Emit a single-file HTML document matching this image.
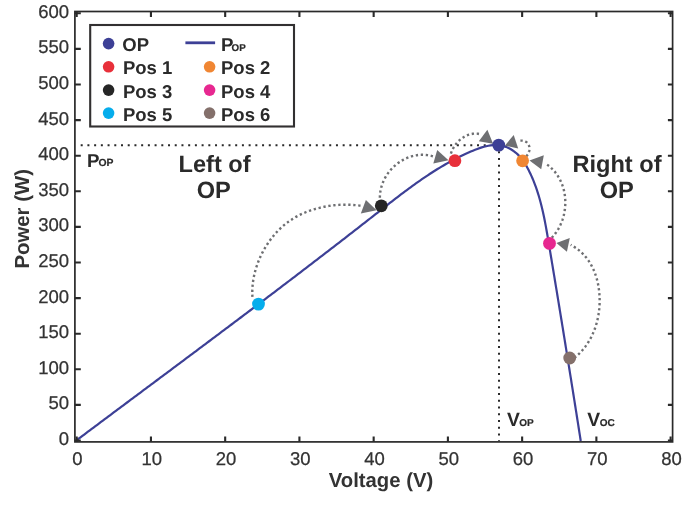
<!DOCTYPE html>
<html lang="en">
<head>
<meta charset="utf-8">
<title>Power vs Voltage</title>
<style>
html,body{margin:0;padding:0;background:#fff;}
body{width:685px;height:511px;overflow:hidden;}
svg{display:block;}
</style>
</head>
<body>
<svg width="685" height="511" viewBox="0 0 685 511" text-rendering="geometricPrecision" font-family="'Liberation Sans', sans-serif">
<rect x="0" y="0" width="685" height="511" fill="#ffffff"/>
<g stroke="#2a2a2a" stroke-width="2.0" fill="none" stroke-dasharray="2.0 4.717">
<path d="M80.7,145.3 H488"/>
<path d="M499,151.3 V441"/>
</g>
<path d="M76.79,440.09 L78.65,438.69 L80.51,437.30 L82.37,435.91 L84.23,434.51 L86.09,433.12 L87.95,431.73 L89.82,430.34 L91.68,428.94 L93.54,427.55 L95.40,426.16 L97.26,424.77 L99.13,423.37 L100.99,421.98 L102.85,420.59 L104.72,419.20 L106.58,417.81 L108.44,416.42 L110.31,415.02 L112.17,413.63 L114.03,412.24 L115.90,410.85 L117.76,409.46 L119.63,408.07 L121.49,406.68 L123.35,405.29 L125.22,403.89 L127.08,402.50 L128.95,401.11 L130.81,399.72 L132.68,398.33 L134.54,396.94 L136.41,395.55 L138.27,394.16 L140.13,392.77 L142.00,391.38 L143.86,389.99 L145.73,388.59 L147.59,387.20 L149.46,385.81 L151.32,384.42 L153.19,383.03 L155.05,381.64 L156.92,380.25 L158.78,378.86 L160.65,377.47 L162.51,376.07 L164.38,374.68 L166.24,373.29 L168.11,371.90 L169.97,370.51 L171.84,369.12 L173.70,367.72 L175.57,366.33 L177.43,364.94 L179.29,363.55 L181.16,362.16 L183.02,360.76 L184.89,359.37 L186.75,357.98 L188.62,356.58 L190.48,355.19 L192.34,353.80 L194.21,352.40 L196.07,351.01 L197.93,349.62 L199.80,348.22 L201.66,346.83 L203.52,345.44 L205.39,344.04 L207.25,342.65 L209.11,341.25 L210.98,339.86 L212.84,338.46 L214.70,337.07 L216.56,335.67 L218.42,334.27 L220.29,332.88 L222.15,331.48 L224.01,330.08 L225.87,328.69 L227.73,327.29 L229.59,325.89 L231.45,324.50 L233.31,323.10 L235.17,321.70 L237.03,320.30 L238.89,318.90 L240.75,317.50 L242.61,316.10 L244.47,314.70 L246.33,313.30 L248.19,311.90 L250.05,310.50 L251.91,309.10 L253.76,307.70 L255.62,306.30 L257.48,304.90 L259.34,303.49 L261.19,302.09 L263.05,300.69 L264.91,299.28 L266.76,297.88 L268.62,296.48 L270.47,295.07 L272.33,293.67 L274.18,292.26 L276.04,290.85 L277.89,289.45 L279.75,288.04 L281.60,286.63 L283.45,285.23 L285.31,283.82 L287.16,282.41 L289.01,281.00 L290.86,279.59 L292.71,278.18 L294.56,276.77 L296.41,275.36 L298.27,273.95 L300.11,272.54 L301.96,271.13 L303.81,269.72 L305.66,268.30 L307.51,266.89 L309.36,265.47 L311.21,264.06 L313.05,262.65 L314.90,261.23 L316.75,259.81 L318.59,258.40 L320.44,256.98 L322.28,255.56 L324.13,254.14 L325.97,252.73 L327.81,251.31 L329.66,249.89 L331.50,248.47 L333.34,247.04 L335.18,245.62 L337.03,244.20 L338.87,242.78 L340.71,241.36 L342.55,239.93 L344.39,238.51 L346.22,237.08 L348.06,235.66 L349.90,234.23 L351.74,232.80 L353.57,231.37 L355.41,229.95 L357.25,228.52 L359.08,227.09 L360.92,225.66 L362.75,224.23 L364.58,222.80 L366.42,221.36 L368.25,219.93 L370.08,218.50 L371.91,217.06 L373.74,215.63 L375.57,214.19 L377.40,212.76 L379.23,211.32 L381.06,209.88 L382.89,208.45 L384.72,207.01 L386.55,205.58 L388.38,204.15 L390.22,202.72 L392.06,201.29 L393.89,199.87 L395.74,198.45 L397.58,197.04 L399.43,195.63 L401.28,194.22 L403.13,192.82 L404.99,191.43 L406.85,190.04 L408.72,188.66 L410.60,187.29 L412.47,185.92 L414.36,184.56 L416.25,183.21 L418.15,181.87 L420.05,180.54 L421.96,179.22 L423.88,177.91 L425.80,176.61 L427.74,175.32 L429.68,174.04 L431.63,172.77 L433.59,171.52 L435.56,170.28 L437.53,169.05 L439.52,167.84 L441.52,166.64 L443.53,165.46 L445.55,164.29 L447.58,163.13 L449.62,161.99 L451.67,160.87 L453.74,159.77 L455.82,158.68 L457.91,157.61 L460.01,156.56 L462.13,155.53 L464.26,154.51 L466.41,153.52 L468.57,152.54 L470.74,151.59 L472.93,150.66 L475.12,149.77 L477.33,148.93 L479.55,148.14 L481.77,147.42 L483.99,146.78 L486.21,146.23 L488.43,145.77 L490.65,145.42 L492.86,145.19 L495.06,145.09 L497.25,145.12 L499.43,145.31 L501.60,145.65 L503.74,146.16 L505.87,146.85 L507.98,147.72 L510.05,148.77 L512.06,149.97 L514.02,151.32 L515.89,152.79 L517.66,154.39 L519.33,156.08 L520.89,157.86 L522.35,159.71 L523.72,161.64 L525.01,163.62 L526.22,165.65 L527.38,167.71 L528.47,169.80 L529.53,171.91 L530.54,174.03 L531.51,176.16 L532.45,178.30 L533.35,180.45 L534.21,182.62 L535.04,184.79 L535.84,186.97 L536.60,189.16 L537.34,191.36 L538.05,193.56 L538.73,195.78 L539.38,198.00 L540.01,200.23 L540.61,202.47 L541.19,204.71 L541.75,206.96 L542.29,209.21 L542.81,211.47 L543.31,213.74 L543.80,216.00 L544.27,218.28 L544.72,220.56 L545.17,222.84 L545.60,225.12 L546.02,227.41 L546.44,229.70 L546.84,231.99 L547.24,234.28 L547.63,236.58 L548.02,238.88 L548.41,241.17 L548.79,243.47 L549.18,245.77 L549.56,248.06 L549.95,250.36 L550.33,252.66 L550.71,254.95 L551.09,257.25 L551.48,259.55 L551.86,261.84 L552.24,264.14 L552.62,266.44 L553.00,268.73 L553.38,271.03 L553.76,273.32 L554.15,275.62 L554.53,277.92 L554.90,280.21 L555.28,282.51 L555.66,284.81 L556.04,287.10 L556.42,289.40 L556.80,291.69 L557.18,293.99 L557.55,296.29 L557.93,298.58 L558.31,300.88 L558.68,303.17 L559.06,305.47 L559.44,307.77 L559.81,310.06 L560.19,312.36 L560.56,314.65 L560.94,316.95 L561.31,319.24 L561.69,321.54 L562.06,323.84 L562.43,326.13 L562.81,328.43 L563.18,330.73 L563.55,333.02 L563.92,335.32 L564.30,337.61 L564.67,339.91 L565.04,342.21 L565.41,344.50 L565.78,346.80 L566.15,349.09 L566.52,351.39 L566.89,353.69 L567.26,355.98 L567.63,358.28 L568.00,360.58 L568.37,362.87 L568.74,365.17 L569.11,367.47 L569.48,369.76 L569.84,372.06 L570.21,374.36 L570.58,376.65 L570.95,378.95 L571.31,381.25 L571.68,383.55 L572.05,385.84 L572.41,388.14 L572.78,390.44 L573.14,392.74 L573.51,395.03 L573.87,397.33 L574.24,399.63 L574.60,401.93 L574.96,404.22 L575.33,406.52 L575.69,408.82 L576.06,411.12 L576.42,413.42 L576.78,415.72 L577.14,418.02 L577.51,420.31 L577.87,422.61 L578.23,424.91 L578.59,427.21 L578.95,429.51 L579.31,431.81 L579.67,434.11 L580.03,436.41 L580.39,438.71 L580.75,441.01" fill="none" stroke="#3d4096" stroke-width="2.2" stroke-linejoin="round"/>
<g stroke="#6e6f72" stroke-width="2.4" fill="none" stroke-dasharray="2.3 2.7">
<path d="M252.44,296.94 L252.35,295.34 L252.30,293.75 L252.29,292.15 L252.30,290.55 L252.36,288.95 L252.44,287.35 L252.56,285.76 L252.72,284.16 L252.90,282.57 L253.12,280.98 L253.37,279.39 L253.65,277.80 L253.96,276.22 L254.30,274.64 L254.68,273.07 L255.08,271.50 L255.51,269.94 L255.97,268.39 L256.45,266.84 L256.97,265.30 L257.51,263.77 L258.08,262.25 L258.68,260.74 L259.30,259.23 L259.95,257.74 L260.62,256.26 L261.32,254.78 L262.04,253.32 L262.79,251.87 L263.56,250.44 L264.36,249.02 L265.17,247.61 L266.02,246.22 L266.88,244.84 L267.77,243.48 L268.68,242.13 L269.62,240.80 L270.57,239.49 L271.55,238.20 L272.55,236.93 L273.58,235.67 L274.62,234.44 L275.69,233.23 L276.78,232.04 L277.89,230.87 L279.02,229.72 L280.18,228.60 L281.35,227.50 L282.55,226.43 L283.76,225.38 L285.00,224.36 L286.25,223.36 L287.53,222.39 L288.82,221.45 L290.14,220.53 L291.47,219.65 L292.82,218.79 L294.19,217.95 L295.58,217.15 L296.98,216.37 L298.40,215.62 L299.83,214.89 L301.28,214.19 L302.74,213.52 L304.21,212.87 L305.70,212.25 L307.20,211.65 L308.71,211.08 L310.23,210.53 L311.76,210.01 L313.31,209.52 L314.86,209.05 L316.42,208.60 L317.99,208.18 L319.56,207.79 L321.15,207.42 L322.74,207.07 L324.33,206.75 L325.93,206.45 L327.53,206.17 L329.14,205.92 L330.75,205.69 L332.37,205.49 L333.99,205.31 L335.61,205.15 L337.22,205.02 L338.85,204.91 L340.47,204.82 L342.08,204.76 L343.70,204.72 L345.32,204.71 L346.93,204.71 L348.55,204.74 L350.15,204.80 L351.76,204.87 L353.36,204.97 L354.95,205.10 L356.54,205.24 L358.12,205.41 L359.70,205.60 L361.26,205.82"/>
<path d="M379.86,197.67 L379.90,196.12 L380.00,194.58 L380.16,193.05 L380.37,191.54 L380.64,190.04 L380.96,188.56 L381.34,187.09 L381.77,185.65 L382.25,184.22 L382.77,182.81 L383.35,181.43 L383.97,180.06 L384.64,178.72 L385.35,177.41 L386.10,176.12 L386.90,174.85 L387.74,173.62 L388.62,172.41 L389.53,171.24 L390.49,170.09 L391.48,168.98 L392.50,167.90 L393.56,166.86 L394.65,165.85 L395.77,164.87 L396.93,163.94 L398.11,163.04 L399.32,162.19 L400.55,161.37 L401.81,160.60 L403.10,159.87 L404.41,159.18 L405.74,158.54 L407.09,157.95 L408.46,157.40 L409.85,156.91 L411.26,156.46 L412.68,156.06 L414.12,155.72 L415.57,155.43 L417.03,155.19 L418.51,155.01 L419.99,154.88 L421.49,154.82 L422.99,154.81 L424.50,154.86 L426.01,154.97 L427.53,155.14 L429.05,155.38 L430.57,155.68 L432.09,156.04 L433.61,156.47 L435.13,156.97"/>
<path d="M450.89,153.60 L451.32,152.36 L451.80,151.12 L452.35,149.90 L452.95,148.69 L453.61,147.51 L454.33,146.36 L455.09,145.23 L455.91,144.13 L456.77,143.07 L457.68,142.05 L458.64,141.07 L459.63,140.13 L460.67,139.25 L461.74,138.41 L462.85,137.63 L463.99,136.91 L465.16,136.25 L466.36,135.66 L467.58,135.13 L468.84,134.68 L470.11,134.30 L471.40,134.00 L472.72,133.78 L474.05,133.65 L475.39,133.60 L476.74,133.65 L478.11,133.79 L479.48,134.03 L480.86,134.37"/>
<path d="M526.27,156.27 L526.85,155.66 L527.37,155.00 L527.84,154.30 L528.25,153.57 L528.61,152.82 L528.91,152.04 L529.15,151.25 L529.32,150.45 L529.44,149.64 L529.49,148.84 L529.48,148.05 L529.40,147.26 L529.26,146.50 L529.05,145.76 L528.77,145.05 L528.42,144.37 L528.01,143.73 L527.54,143.14 L527.01,142.60 L526.43,142.11 L525.79,141.68 L525.11,141.32 L524.37,141.02 L523.60,140.80 L522.78,140.65 L521.92,140.59 L521.03,140.62 L520.11,140.74 L519.16,140.96"/>
<path d="M551.77,237.74 L552.85,236.56 L553.88,235.34 L554.88,234.10 L555.82,232.82 L556.73,231.51 L557.59,230.17 L558.40,228.80 L559.17,227.41 L559.90,225.99 L560.58,224.55 L561.21,223.09 L561.80,221.61 L562.35,220.12 L562.85,218.60 L563.30,217.08 L563.71,215.53 L564.07,213.98 L564.39,212.42 L564.66,210.85 L564.89,209.27 L565.06,207.68 L565.19,206.10 L565.28,204.51 L565.32,202.91 L565.31,201.32 L565.25,199.74 L565.15,198.15 L565.00,196.57 L564.80,195.00 L564.55,193.44 L564.26,191.88 L563.92,190.34 L563.53,188.81 L563.09,187.30 L562.60,185.80 L562.07,184.33 L561.49,182.87 L560.85,181.43 L560.17,180.01 L559.44,178.62 L558.67,177.25 L557.84,175.91 L556.96,174.60 L556.03,173.32 L555.06,172.07 L554.03,170.86 L552.95,169.68 L551.83,168.53 L550.65,167.43 L549.43,166.36 L548.15,165.34 L546.82,164.36 L545.44,163.42"/>
<path d="M574.42,357.90 L575.65,356.89 L576.85,355.86 L578.02,354.79 L579.15,353.70 L580.26,352.58 L581.33,351.43 L582.37,350.27 L583.38,349.07 L584.36,347.86 L585.31,346.62 L586.22,345.35 L587.11,344.07 L587.97,342.77 L588.79,341.44 L589.58,340.10 L590.35,338.74 L591.08,337.36 L591.78,335.96 L592.45,334.55 L593.09,333.12 L593.71,331.68 L594.29,330.22 L594.84,328.74 L595.36,327.26 L595.85,325.76 L596.31,324.25 L596.74,322.73 L597.14,321.20 L597.51,319.66 L597.85,318.11 L598.16,316.55 L598.44,314.98 L598.69,313.41 L598.91,311.83 L599.10,310.25 L599.27,308.66 L599.40,307.07 L599.50,305.47 L599.58,303.88 L599.62,302.28 L599.64,300.67 L599.63,299.07 L599.58,297.47 L599.51,295.87 L599.41,294.27 L599.28,292.67 L599.12,291.08 L598.93,289.49 L598.71,287.91 L598.46,286.34 L598.18,284.77 L597.87,283.21 L597.52,281.66 L597.14,280.13 L596.73,278.60 L596.29,277.09 L595.81,275.59 L595.30,274.11 L594.76,272.64 L594.18,271.19 L593.57,269.76 L592.92,268.35 L592.24,266.95 L591.52,265.58 L590.77,264.23 L589.98,262.91 L589.15,261.61 L588.29,260.33 L587.39,259.08 L586.45,257.86 L585.48,256.66 L584.46,255.50 L583.41,254.36 L582.32,253.26 L581.19,252.19 L580.02,251.15 L578.82,250.15 L577.57,249.18 L576.28,248.25 L574.95,247.36 L573.58,246.50 L572.17,245.69 L570.71,244.91"/>
</g>
<polygon points="376.6,210.2 365.9,199.9 360.8,213.4" fill="#6e6f72"/>
<polygon points="448.5,160.2 437.2,150.0 433.3,163.5" fill="#6e6f72"/>
<polygon points="493.1,143.8 487.4,129.8 478.8,141.2" fill="#6e6f72"/>
<polygon points="504.8,145.7 513.7,134.9 518.2,148.4" fill="#6e6f72"/>
<polygon points="529.5,160.6 543.8,155.3 541.2,169.2" fill="#6e6f72"/>
<polygon points="556.4,243.1 569.8,238.0 566.9,251.7" fill="#6e6f72"/>
<circle cx="498.7" cy="145.1" r="6.4" fill="#3d4096"/>
<circle cx="454.9" cy="160.7" r="6.4" fill="#e8303a"/>
<circle cx="522.6" cy="160.8" r="6.4" fill="#f08633"/>
<circle cx="381.3" cy="205.8" r="6.4" fill="#262626"/>
<circle cx="549.5" cy="243.4" r="6.4" fill="#e72890"/>
<circle cx="258.5" cy="304.1" r="6.4" fill="#06adec"/>
<circle cx="569.7" cy="358.0" r="6.4" fill="#84706b"/>
<rect x="74.90" y="11.50" width="597.70" height="430.40" fill="none" stroke="#2a2a2a" stroke-width="1.7"/>
<path d="M76.70,441.90 V436.60 M76.70,11.50 V17.10 M150.94,441.90 V436.60 M150.94,11.50 V17.10 M225.18,441.90 V436.60 M225.18,11.50 V17.10 M299.42,441.90 V436.60 M299.42,11.50 V17.10 M373.66,441.90 V436.60 M373.66,11.50 V17.10 M447.90,441.90 V436.60 M447.90,11.50 V17.10 M522.14,441.90 V436.60 M522.14,11.50 V17.10 M596.38,441.90 V436.60 M596.38,11.50 V17.10 M670.62,441.90 V436.60 M670.62,11.50 V17.10 M74.90,440.50 H80.80 M672.60,440.50 H667.90 M74.90,404.90 H80.80 M672.60,404.90 H667.90 M74.90,369.30 H80.80 M672.60,369.30 H667.90 M74.90,333.70 H80.80 M672.60,333.70 H667.90 M74.90,298.10 H80.80 M672.60,298.10 H667.90 M74.90,262.50 H80.80 M672.60,262.50 H667.90 M74.90,226.90 H80.80 M672.60,226.90 H667.90 M74.90,191.30 H80.80 M672.60,191.30 H667.90 M74.90,155.70 H80.80 M672.60,155.70 H667.90 M74.90,120.10 H80.80 M672.60,120.10 H667.90 M74.90,84.50 H80.80 M672.60,84.50 H667.90 M74.90,48.90 H80.80 M672.60,48.90 H667.90 M74.90,13.30 H80.80 M672.60,13.30 H667.90" stroke="#2a2a2a" stroke-width="2.1" fill="none"/>
<g font-size="18.5" fill="#333333" stroke="#333333" stroke-width="0.25">
<text x="77.50" y="465.0" text-anchor="middle">0</text>
<text x="151.74" y="465.0" text-anchor="middle">10</text>
<text x="225.98" y="465.0" text-anchor="middle">20</text>
<text x="300.22" y="465.0" text-anchor="middle">30</text>
<text x="374.46" y="465.0" text-anchor="middle">40</text>
<text x="448.70" y="465.0" text-anchor="middle">50</text>
<text x="522.94" y="465.0" text-anchor="middle">60</text>
<text x="597.18" y="465.0" text-anchor="middle">70</text>
<text x="671.42" y="465.0" text-anchor="middle">80</text>
<text x="69.0" y="444.90" text-anchor="end">0</text>
<text x="69.0" y="409.30" text-anchor="end">50</text>
<text x="69.0" y="373.70" text-anchor="end">100</text>
<text x="69.0" y="338.10" text-anchor="end">150</text>
<text x="69.0" y="302.50" text-anchor="end">200</text>
<text x="69.0" y="266.90" text-anchor="end">250</text>
<text x="69.0" y="231.30" text-anchor="end">300</text>
<text x="69.0" y="195.70" text-anchor="end">350</text>
<text x="69.0" y="160.10" text-anchor="end">400</text>
<text x="69.0" y="124.50" text-anchor="end">450</text>
<text x="69.0" y="88.90" text-anchor="end">500</text>
<text x="69.0" y="53.30" text-anchor="end">550</text>
<text x="69.0" y="17.70" text-anchor="end">600</text>
</g>
<text x="381" y="487.0" font-size="20.3" font-weight="bold" text-anchor="middle" fill="#333333">Voltage (V)</text>
<text transform="translate(29.3,218.8) rotate(-90)" font-size="20.38" font-weight="bold" text-anchor="middle" fill="#333333">Power (W)</text>
<g font-size="23.6" font-weight="bold" text-anchor="middle" fill="#2a2a2a">
<text x="214.6" y="171.9">Left of</text><text x="213.7" y="198.0">OP</text>
<text x="617.0" y="171.5">Right of</text><text x="616.8" y="198.0">OP</text>
</g>
<text x="87.0" y="166.6" font-size="18.7" font-weight="bold" fill="#2a2a2a">P<tspan font-size="10.4" dy="-0.3" dx="-1.0" stroke="#2a2a2a" stroke-width="0.2">OP</tspan></text>
<text x="506.9" y="425.9" font-size="19.3" font-weight="bold" fill="#2a2a2a">V<tspan font-size="10.0" dy="0.4" dx="-0.5" stroke="#2a2a2a" stroke-width="0.2">OP</tspan></text>
<text x="587.3" y="425.9" font-size="19.3" font-weight="bold" fill="#2a2a2a">V<tspan font-size="10.0" dy="0.4" dx="-0.5" stroke="#2a2a2a" stroke-width="0.2">OC</tspan></text>
<rect x="90.2" y="25.0" width="203.8" height="101.5" fill="#ffffff" stroke="#323031" stroke-width="2.1"/>
<g font-size="18.5" font-weight="bold" fill="#2a2a2a">
<circle cx="108.6" cy="43.6" r="5.8" fill="#3d4096"/>
<text x="122.3" y="50.6">OP</text>
<circle cx="108.6" cy="66.8" r="5.8" fill="#e8303a"/>
<text x="122.9" y="74.3">Pos 1</text>
<circle cx="209.6" cy="66.8" r="5.8" fill="#f08633"/>
<text x="221.0" y="74.3">Pos 2</text>
<circle cx="108.6" cy="90.1" r="5.8" fill="#262626"/>
<text x="122.9" y="97.9">Pos 3</text>
<circle cx="209.6" cy="90.1" r="5.8" fill="#e72890"/>
<text x="221.0" y="97.9">Pos 4</text>
<circle cx="108.6" cy="113.1" r="5.8" fill="#06adec"/>
<text x="122.9" y="121.0">Pos 5</text>
<circle cx="209.6" cy="113.1" r="5.8" fill="#84706b"/>
<text x="221.0" y="121.0">Pos 6</text>
</g>
<path d="M185.4,42.8 H215.1" stroke="#3d4096" stroke-width="2.8" fill="none"/>
<text x="221.0" y="50.5" font-size="18.7" font-weight="bold" fill="#2a2a2a">P<tspan font-size="9.8" dy="0.8" dx="-1.9" stroke="#2a2a2a" stroke-width="0.2">OP</tspan></text>
</svg>
</body>
</html>
